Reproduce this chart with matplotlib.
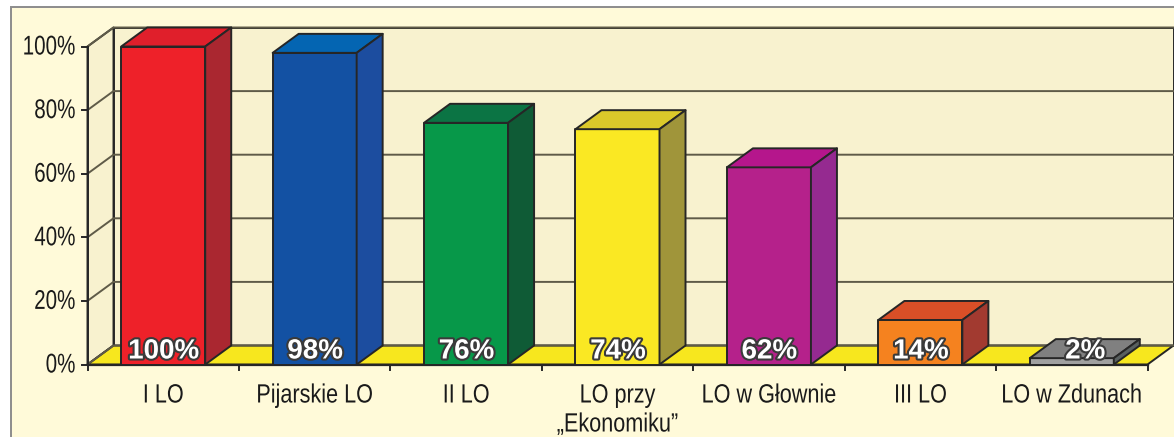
import matplotlib

matplotlib.use("Agg")
import matplotlib.patheffects as pe
import matplotlib.pyplot as plt
from matplotlib.patches import Polygon, Rectangle
from matplotlib.transforms import Affine2D

schools = ["I LO", "Pijarskie LO", "II LO", "LO przy\n„Ekonomiku”", "LO w Głownie", "III LO", "LO w Zdunach"]
values = [100, 98, 76, 74, 62, 14, 2]
y_ticks = [0, 20, 40, 60, 80, 100]
front_colors = ["#EE2129", "#1351A3", "#079849", "#FAE823", "#B5218B", "#F5821F", "#A0A0A0"]
top_colors = ["#E01F2B", "#0465B2", "#0B7444", "#DBC92A", "#B5168C", "#D94F27", "#808080"]
side_colors = ["#AA2730", "#1C4D9F", "#0F5B36", "#A0953A", "#952A90", "#A23A30", "#596060"]

W, H = 1174, 437
INK = "#262626"
GRID = "#5F5B48"
FONT = "Liberation Sans"

# depth of the fake 3d box, in data units
DX = 26 / 151.4
DY = 19 / 3.18
BAR_W = 84 / 151.4


class Squeeze(pe.AbstractPathEffect):
    """Narrow a text horizontally around a pixel x (no narrow font installed)."""

    def __init__(self, sx, x_px):
        super().__init__()
        self.sx = sx
        self.x_px = x_px

    def draw_path(self, renderer, gc, tpath, affine, rgbFace=None):
        squeeze = Affine2D().translate(-self.x_px, 0).scale(self.sx, 1).translate(self.x_px, 0)
        renderer.draw_path(gc, tpath, affine + squeeze, rgbFace)


fig = plt.figure(figsize=(W / 100, H / 100), dpi=100, facecolor="white")
fig.patches.append(
    Rectangle((10.5 / W, -0.01), 1.1, 1 - 6.5 / H + 0.01, transform=fig.transFigure,
              fc="#FFFAD9", ec="#8C8C8C", lw=1.4, zorder=-1)
)
ax = fig.add_axes([87.5 / W, (H - 364.5) / H, 1060 / W, 318 / H])
ax.set_xlim(0, len(values))
ax.set_ylim(0, 100)
ax.axis("off")


def poly(pts, fc, ec=INK, lw=1.4, z=2):
    ax.add_patch(Polygon(pts, closed=True, fc=fc, ec=ec, lw=lw, zorder=z, clip_on=False, joinstyle="round"))


n = len(values)
# walls and floor
poly([(0, 0), (DX, DY), (DX, 100 + DY), (0, 100)], "#F8F2CF", z=1)
poly([(DX, DY), (n + DX, DY), (n + DX, 100 + DY), (DX, 100 + DY)], "#F8F2CF", z=1)
poly([(0, 0), (n, 0), (n + DX, DY), (DX, DY)], "#F7E71E", z=1)

for t in y_ticks:
    ax.plot([0, DX, n + DX], [t, t + DY, t + DY], color=GRID, lw=1.4, zorder=1.5, clip_on=False)
    ax.plot([-5 / 151.4, 0], [t, t], color=INK, lw=1.4, zorder=1.5, clip_on=False)
    anchor = ax.transData.transform((0, t))[0] - 12
    ax.annotate(f"{t}%", (0, t), xytext=(-12, 2), textcoords="offset pixels", ha="right", va="center_baseline",
                fontsize=19.5, family=FONT, color="#1A1A1A", path_effects=[Squeeze(0.76, anchor)])

for i in range(n + 1):
    ax.plot([i, i], [0, -5 / 3.18], color=INK, lw=1.4, clip_on=False)
ax.plot([0, n], [0, 0], color=INK, lw=1.6, zorder=1.6, clip_on=False)
ax.plot([0, 0], [0, 100], color=INK, lw=1.4, zorder=1.6, clip_on=False)

for i, (name, v) in enumerate(zip(schools, values)):
    l = i + (1 - BAR_W) / 2
    r = l + BAR_W
    poly([(l, 0), (r, 0), (r, v), (l, v)], front_colors[i], z=3)
    poly([(l, v), (r, v), (r + DX, v + DY), (l + DX, v + DY)], top_colors[i], z=3)
    poly([(r, 0), (r + DX, DY), (r + DX, v + DY), (r, v)], side_colors[i], z=3)

    # small bars: label sits over the top face
    cx = (l + r) / 2 + (DX / 2 if v + DY < 15 else 0)
    ax.annotate(f"{v}%", (cx, 0), xytext=(0.5, 6), textcoords="offset pixels", ha="center", va="baseline",
                fontsize=20, fontweight="bold", family=FONT, color="white", zorder=5,
                path_effects=[pe.withStroke(linewidth=3, foreground="#3A3A3A")])

    anchor = ax.transData.transform((i + 0.5, 0))[0]
    for k, line in enumerate(name.split("\n")):
        ax.annotate(line, (i + 0.5, 0), xytext=(0, -38 - 29 * k), textcoords="offset pixels", ha="center",
                    va="baseline", fontsize=19, family=FONT, color="#1A1A1A", annotation_clip=False,
                    path_effects=[Squeeze(0.82, anchor)])

fig.savefig("out.png", dpi=100)
